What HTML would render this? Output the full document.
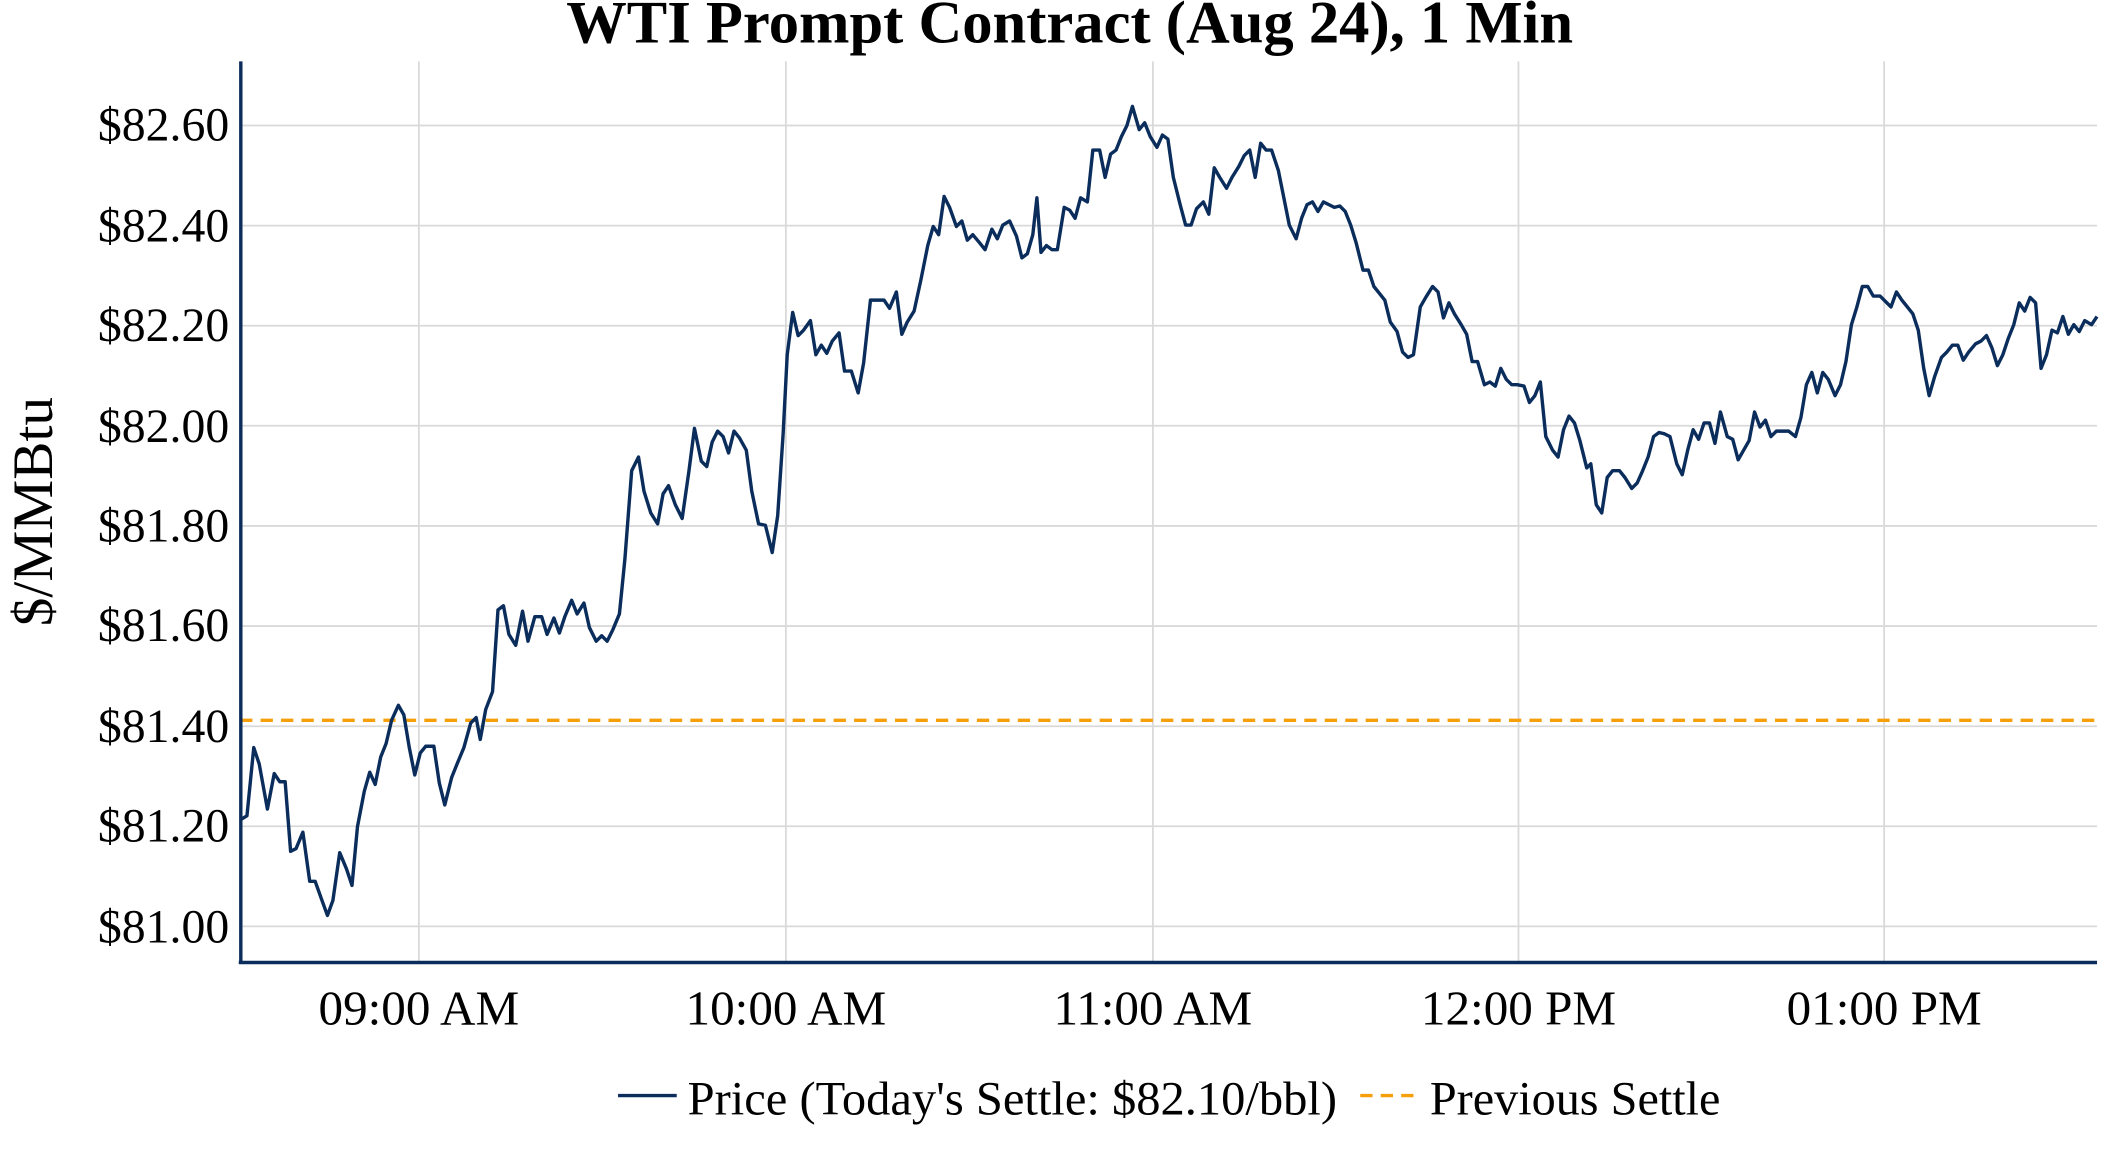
<!DOCTYPE html>
<html><head><meta charset="utf-8"><style>
html,body{margin:0;padding:0;background:#fff;overflow:hidden}
svg{display:block}
text{font-family:"Liberation Serif",serif;fill:#000}
</style></head><body>
<svg width="2112" height="1152" viewBox="0 0 1548 844.4" preserveAspectRatio="none" xmlns="http://www.w3.org/2000/svg">
<text x="784" y="31" text-anchor="middle" font-size="44" font-weight="bold" textLength="738" lengthAdjust="spacingAndGlyphs">WTI Prompt Contract (Aug 24), 1 Min</text>
<g stroke="#d9d9d9" stroke-width="1.3">
<line x1="176" x2="1537" y1="679" y2="679"/><line x1="176" x2="1537" y1="605.6" y2="605.6"/>
<line x1="176" x2="1537" y1="532.3" y2="532.3"/><line x1="176" x2="1537" y1="458.9" y2="458.9"/>
<line x1="176" x2="1537" y1="385.5" y2="385.5"/><line x1="176" x2="1537" y1="312.1" y2="312.1"/>
<line x1="176" x2="1537" y1="238.8" y2="238.8"/><line x1="176" x2="1537" y1="165.4" y2="165.4"/>
<line x1="176" x2="1537" y1="92" y2="92"/>
<line x1="307" x2="307" y1="45" y2="705"/><line x1="576" x2="576" y1="45" y2="705"/>
<line x1="845" x2="845" y1="45" y2="705"/><line x1="1113" x2="1113" y1="45" y2="705"/>
<line x1="1381" x2="1381" y1="45" y2="705"/>
</g>
<g font-size="35" text-anchor="end">
<text x="168" y="691">$81.00</text><text x="168" y="617">$81.20</text><text x="168" y="544">$81.40</text>
<text x="168" y="470">$81.60</text><text x="168" y="397">$81.80</text><text x="168" y="324">$82.00</text>
<text x="168" y="250">$82.20</text><text x="168" y="177">$82.40</text><text x="168" y="103">$82.60</text>
</g>
<g font-size="36" text-anchor="middle">
<text x="307" y="751">09:00 AM</text><text x="576" y="751">10:00 AM</text><text x="845" y="751">11:00 AM</text>
<text x="1113" y="751">12:00 PM</text><text x="1381" y="751">01:00 PM</text>
</g>
<text transform="translate(38,375) rotate(-90)" font-size="42" text-anchor="middle">$/MMBtu</text>
<line x1="176" x2="1537" y1="528" y2="528" stroke="#f59f0a" stroke-width="2.5" stroke-dasharray="9,6"/>
<polyline fill="none" stroke="#0b2d5c" stroke-width="2.5" stroke-linejoin="round" points="176,601 181,598 186,548 190,560 196,593 201,567 205,573 209,573 213,624 217,622 222,610 227,646 231,646 236,660 240,671 244,660 249,625 254,637 258,649 262,606 267,580 271,566 275,575 279,555 283,545 287,528 292,517 296,524 300,548 304,568 308,552 312,547 318,547 322,574 326,590 331,570 335,560 340,548 345,530 349,526 352,542 356,520 361,507 365,447 369,444 373,465 378,473 383,448 387,470 392,452 397,452 401,465 406,453 410,464 414,452 419,440 423,450 428,442 432,460 437,470 441,466 445,470 449,462 454,450 458,410 463,345 468,335 472,360 477,376 482,384 486,362 490,356 495,370 500,380 505,345 509,314 514,338 518,342 522,324 526,316 530,320 534,332 538,316 542,321 547,330 551,360 556,384 561,385 566,405 570,378 574,318 577,260 581,229 585,246 589,242 594,235 598,260 602,253 606,259 610,250 615,244 619,272 624,272 629,288 633,266 638,220 643,220 648,220 652,226 657,214 661,245 665,236 670,228 675,205 680,180 684,166 688,172 692,144 696,152 701,166 705,162 709,176 713,172 718,178 722,183 727,168 731,175 735,165 740,162 745,173 749,189 753,186 757,172 760,145 763,185 767,180 771,183 775,183 780,152 784,154 788,160 792,145 797,148 801,110 806,110 810,130 814,113 818,110 822,100 826,92 830,78 835,95 839,90 843,100 848,108 852,99 856,102 860,130 865,150 869,165 873,165 877,153 882,148 886,157 890,123 894,130 899,138 903,130 908,122 912,114 916,110 920,130 924,105 928,110 932,110 937,125 941,145 945,165 950,175 954,160 958,150 962,148 966,155 970,148 974,150 978,152 982,151 986,155 990,165 994,178 999,198 1003,198 1007,210 1011,215 1015,220 1019,236 1024,243 1028,258 1032,262 1036,260 1041,225 1045,218 1050,210 1054,214 1058,233 1062,222 1066,230 1071,238 1075,245 1079,265 1083,265 1088,282 1092,280 1096,283 1100,270 1104,278 1108,282 1112,282 1117,283 1121,295 1125,290 1129,280 1133,320 1138,330 1142,335 1146,315 1150,305 1154,310 1158,323 1163,343 1166,340 1170,370 1174,376 1178,350 1182,345 1187,345 1191,350 1196,358 1200,354 1204,345 1208,335 1212,320 1216,317 1220,318 1224,320 1229,340 1233,348 1237,330 1241,315 1245,322 1249,310 1253,310 1257,325 1261,302 1266,320 1270,322 1274,337 1278,330 1282,323 1286,302 1290,313 1294,308 1298,320 1302,316 1307,316 1311,316 1316,320 1320,306 1324,282 1328,273 1332,288 1336,273 1340,278 1345,290 1349,282 1353,265 1357,238 1361,225 1365,210 1369,210 1373,217 1378,217 1382,221 1386,225 1390,214 1394,220 1398,225 1402,230 1406,242 1410,270 1414,290 1418,276 1423,262 1427,258 1431,253 1435,253 1439,264 1443,258 1448,252 1452,250 1456,246 1460,255 1464,268 1468,260 1472,248 1476,238 1480,222 1484,228 1488,218 1492,222 1496,270 1500,260 1504,242 1508,244 1512,232 1516,245 1520,238 1524,243 1528,235 1533,238 1537,232"/>
<line x1="176.5" x2="176.5" y1="45" y2="706" stroke="#0b2d5c" stroke-width="2.5"/>
<line x1="175" x2="1537" y1="705.5" y2="705.5" stroke="#0b2d5c" stroke-width="2.5"/>
<line x1="453" x2="496" y1="803" y2="803" stroke="#0b2d5c" stroke-width="2.5"/>
<text x="504" y="817" font-size="35" textLength="476" lengthAdjust="spacingAndGlyphs">Price (Today's Settle: $82.10/bbl)</text>
<line x1="997" x2="1040" y1="803" y2="803" stroke="#f59f0a" stroke-width="2.5" stroke-dasharray="9,6"/>
<text x="1048" y="817" font-size="35" textLength="213" lengthAdjust="spacingAndGlyphs">Previous Settle</text>
</svg>
</body></html>
